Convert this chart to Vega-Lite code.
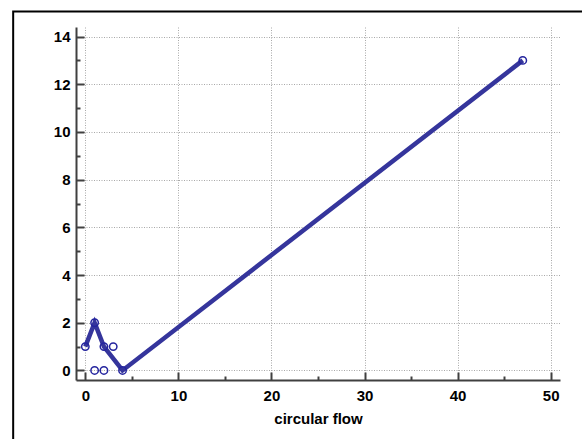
{
  "$schema": "https://vega.github.io/schema/vega-lite/v6.json",
  "width": 484,
  "height": 353,
  "autosize": {"type": "none"},
  "padding": {"left": 76, "top": 27, "right": 22, "bottom": 59},
  "background": "white",
  "config": {
    "view": {"stroke": null},
    "font": "Liberation Sans",
    "axis": {
      "labelFont": "Liberation Sans",
      "labelFontWeight": "bold",
      "labelFontSize": 15,
      "labelColor": "#000000",
      "titleFont": "Liberation Sans",
      "titleFontWeight": "bold",
      "titleFontSize": 15,
      "titleColor": "#000000",
      "domainColor": "#404040",
      "domainWidth": 2,
      "tickColor": "#404040",
      "tickWidth": 2,
      "gridColor": "#a8a8a8",
      "gridDash": [1, 1.5],
      "gridWidth": 1
    }
  },
  "datasets": {
    "pts": [
      {"x": 0, "y": 1},
      {"x": 1, "y": 2},
      {"x": 1, "y": 0},
      {"x": 2, "y": 1},
      {"x": 2, "y": 0},
      {"x": 3, "y": 1},
      {"x": 4, "y": 0},
      {"x": 47, "y": 13}
    ],
    "ln": [
      {"x": 0, "y": 1},
      {"x": 1, "y": 2},
      {"x": 2, "y": 1},
      {"x": 4, "y": 0},
      {"x": 47, "y": 13}
    ],
    "frame": [
      {"x0": -7.75, "x1": 60, "y0": -5, "y1": 15.05}
    ]
  },
  "resolve": {"axis": {"x": "independent", "y": "independent"}},
  "layer": [
    {
      "data": {"name": "frame"},
      "mark": {"type": "rect", "fill": null, "stroke": "#000000", "strokeWidth": 2, "clip": false},
      "encoding": {
        "x": {"field": "x0", "type": "quantitative", "scale": {"domain": [-1, 51], "nice": false, "zero": false},
          "axis": {"orient": "bottom", "values": [0, 10, 20, 30, 40, 50], "tickSize": -8, "labelPadding": 16, "grid": true, "title": "circular flow", "titlePadding": 8}},
        "x2": {"field": "x1"},
        "y": {"field": "y0", "type": "quantitative", "scale": {"domain": [-0.4, 14.4], "nice": false, "zero": false},
          "axis": {"orient": "left", "values": [0, 2, 4, 6, 8, 10, 12, 14], "tickSize": -8, "labelPadding": 14, "grid": true, "title": null}},
        "y2": {"field": "y1"}
      }
    },
    {
      "data": {"name": "ln"},
      "mark": {"type": "line", "color": "#35359c", "strokeWidth": 4.5},
      "encoding": {
        "x": {"field": "x", "type": "quantitative",
          "axis": {"orient": "bottom", "values": [5, 15, 25, 35, 45], "tickSize": -4, "labels": false, "grid": false, "domain": false, "title": null}},
        "y": {"field": "y", "type": "quantitative",
          "axis": {"orient": "left", "values": [1, 3, 5, 7, 9, 11, 13], "tickSize": -4, "labels": false, "grid": false, "domain": false, "title": null}}
      }
    },
    {
      "data": {"name": "pts"},
      "mark": {"type": "point", "shape": "circle", "filled": false, "color": "#24249e", "size": 55, "strokeWidth": 1.5, "opacity": 1},
      "encoding": {
        "x": {"field": "x", "type": "quantitative", "axis": null},
        "y": {"field": "y", "type": "quantitative", "axis": null}
      }
    }
  ]
}
